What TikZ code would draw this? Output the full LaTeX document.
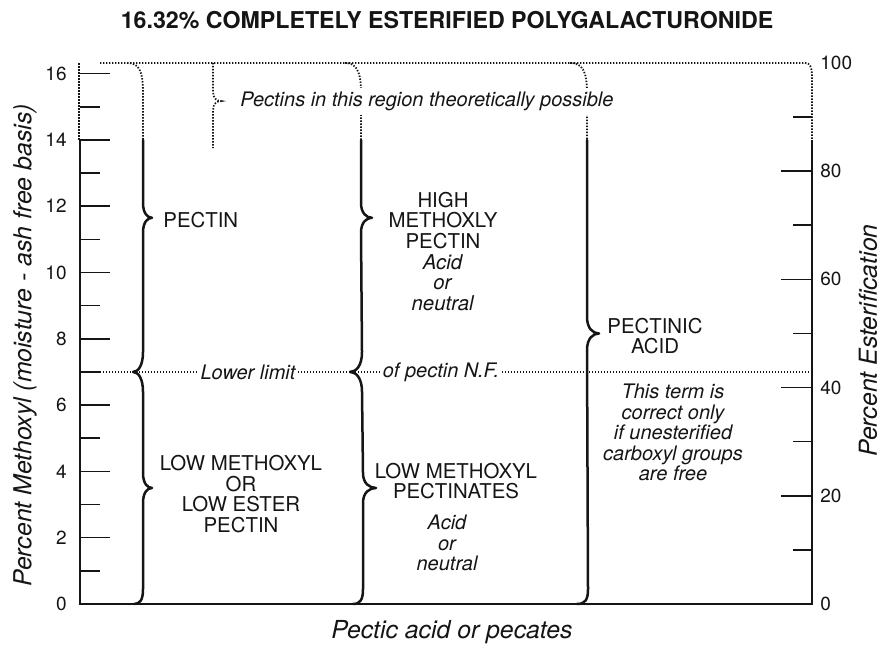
\documentclass[tikz,border=0pt]{standalone}
\usepackage{fontspec}
\setmainfont{TeX Gyre Heros}
\usepackage{xcolor}
\usetikzlibrary{positioning}
\definecolor{ink}{HTML}{151515}
\tikzset{
  axisline/.style={
    line width=0.8pt, color=ink
  },
  dotline/.style={
    line width=0.9pt, color=ink, dash pattern=on 0.7pt off 0.8pt
  },
  bracepath/.style={
    line width=1.25pt, color=ink, line cap=round, line join=round
  },
  bracetip/.style 2 args={
    insert path={.. controls +(0,-0.7*#2) and +(-0.5*#1,0) .. ++(#1,-#2)
                 .. controls +(-0.5*#1,0) and +(0,0.7*#2) .. ++(-#1,-#2)}
  },
  catlabel/.style={
    font=\fontsize{10.2}{10.3}\selectfont, align=center, inner sep=1pt
  },
  notelabel/.style={
    font=\fontsize{10}{10.3}\selectfont\itshape, align=center, inner sep=1pt
  },
  ticklabel/.style={
    font=\fontsize{9.5}{10}\selectfont, inner sep=0pt
  },
  axistitle/.style={
    font=\fontsize{12.4}{12}\selectfont\itshape
  },
}

\begin{document}
\begin{tikzpicture}[x=0.5pt, y=16.575pt, color=ink]
  \useasboundingbox (0,-1.3575) rectangle (887,18.22);

  \node[font=\fontsize{11.6}{12}\selectfont\bfseries] (title) at (447,17.62)
    {16.32\% COMPLETELY ESTERIFIED POLYGALACTURONIDE};

  \draw[axisline] (80,14) -- (80,0) -- (812,0) -- (812,14);
  \draw[dotline] (79,14) -- (79,16.32);
  \draw[dotline] (100,16.32) -- (805,16.32)
    .. controls (810,16.32) and (812,16.2) .. (812,15.9) -- (812,14);

  \foreach \m in {2,4,...,16}
    \draw[axisline] (80,\m) -- (110,\m);
  \foreach \m in {1,3,...,15}
    \draw[axisline] (80,\m) -- (100,\m);
  \foreach \m in {0,2,...,16}
    \node[ticklabel, anchor=east] (ml\m) at (67,\m) {\m};
  \foreach \e in {20,40,60,80}
    \draw[axisline] (812,0.1632*\e) -- (781,0.1632*\e);
  \foreach \e in {10,30,...,90}
    \draw[axisline] (812,0.1632*\e) -- (793,0.1632*\e);
  \foreach \e in {0,20,...,100}
    \node[ticklabel, anchor=west] (el\e) at (820,0.1632*\e) {\e};

  \node[axistitle, rotate=90] (ytitle) at (25,7.8)
    {Percent Methoxyl (moisture - ash free basis)};
  \node[axistitle, rotate=90] (etitle) at (868,7.95) {Percent Esterification};
  \node[axistitle] (xtitle) at (452,-0.845) {Pectic acid or pecates};

  \coordinate (llL) at (100,7);
  \coordinate (llR) at (812,7);
  \draw[dotline] (llL) -- (llR);
  \node[notelabel, fill=white, inner sep=1.5pt] (lower) at (248,7) {Lower limit};
  \node[notelabel, fill=white, inner sep=1.5pt] (ofnf) at (441,7) {of pectin N.F.};

  \draw[dotline] (127,16.32) .. controls (139,16.32) and (143,16.1) .. (143,15.4) -- (143,14);
  \draw[bracepath] (143,14) -- (143,12.1) [bracetip={9}{0.45}]
    -- (143,7.6) [bracetip={-10}{0.6}]
    -- (143,3.95) [bracetip={9}{0.45}]
    -- (143,0.45) .. controls (143,0.12) and (140,0) .. (134,0);

  \draw[dotline] (345,16.32) .. controls (356,16.32) and (361,16.1) .. (361,15.4) -- (361,14);
  \draw[bracepath] (361,14) -- (361,12.1) [bracetip={11}{0.45}]
    -- (362,7.6) [bracetip={-12}{0.6}]
    -- (363,3.95) [bracetip={13}{0.45}]
    -- (363,0.45) .. controls (363,0.12) and (360,0) .. (353,0);

  \draw[dotline] (570,16.32) .. controls (582,16.32) and (587,16.1) .. (587,15.4) -- (587,14);
  \draw[bracepath] (587,14) -- (587,8.66) [bracetip={12}{0.5}]
    -- (588,0.45) .. controls (588,0.12) and (585,0) .. (577,0);

  \draw[dotline] (213,16.32) -- (213,15.45) [bracetip={8}{0.28}] -- (213,13.75);

  \node[notelabel, fill=white, inner sep=2pt] (possible) at (427,15.17)
    {Pectins in this region theoretically possible};

  \node[catlabel, anchor=west] (pectin) at (161,11.58) {PECTIN};
  \node[catlabel] (hmp) at (443,10.64)
    {HIGH\\METHOXLY\\PECTIN\\\textit{Acid}\\\textit{or}\\\textit{neutral}};
  \node[catlabel] (pacid) at (655,8.08) {PECTINIC\\ACID};
  \node[notelabel] (term) at (673,5.17)
    {This term is\\correct only\\if unesterified\\carboxyl groups\\are free};
  \node[catlabel] (lmlow) at (241,3.32) {LOW METHOXYL\\OR\\LOW ESTER\\PECTIN};
  \node[catlabel] (lmpect) at (456,3.71) {LOW METHOXYL\\PECTINATES};
  \node[notelabel] (lmacid) at (447,1.84) {Acid\\or\\neutral};
\end{tikzpicture}
\end{document}
